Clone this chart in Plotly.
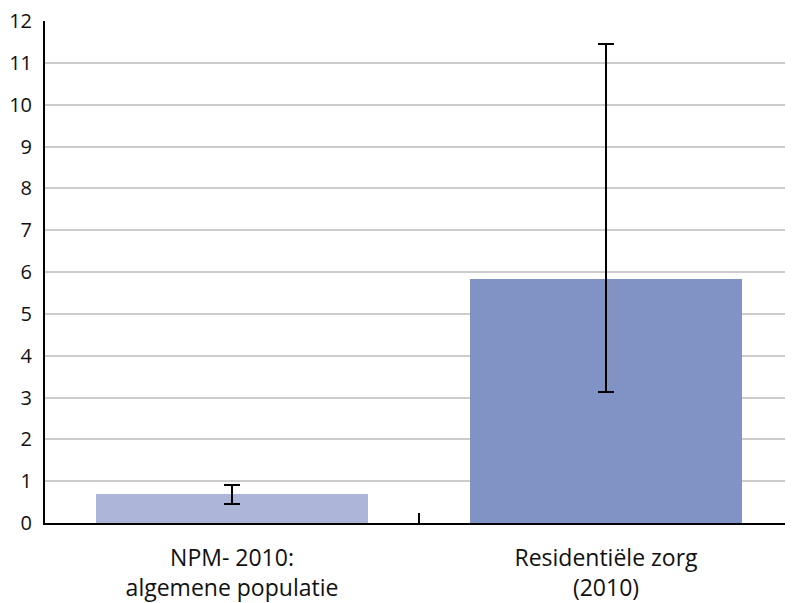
import plotly.graph_objects as go

categories = ["NPM- 2010:<br>algemene populatie", "Residentiële zorg<br>(2010)"]
values = [0.69, 5.83]
err_plus = [0.23, 5.62]
err_minus = [0.24, 2.71]
bar_colors = ["#adb5d8", "#8192c4"]
y_ticks = list(range(0, 13))

FONT = "Open Sans, Lato, sans-serif"
fig = go.Figure()
fig.add_trace(go.Bar(
    x=categories, y=values, width=0.725,
    marker=dict(color=bar_colors, line=dict(width=0)),
    error_y=dict(type="data", symmetric=False, array=err_plus, arrayminus=err_minus,
                 color="black", thickness=2, width=8),
))

fig.update_layout(
    width=785, height=595,
    margin=dict(l=37, r=0, t=13, b=80),
    paper_bgcolor="white", plot_bgcolor="white",
    showlegend=False, font=dict(family=FONT, size=20, color="#111111"), bargap=0,
    xaxis=dict(
        range=[-0.5, 1.5], showgrid=False, showline=True, linecolor="black", linewidth=2,
        ticks="inside", tickson="boundaries", ticklen=10, tickwidth=2, tickcolor="black",
        tickfont=dict(family=FONT, size=23, color="#111111"), ticklabelstandoff=13,
        zeroline=False, automargin=False,
    ),
    yaxis=dict(
        range=[0, 12], tickvals=y_ticks, showgrid=True, gridcolor="#cccccc", gridwidth=2,
        showline=True, linecolor="black", linewidth=2, ticks="", ticklabelstandoff=7,
        ticklabeloverflow="allow", automargin=False,
        zeroline=False, tickfont=dict(family=FONT, size=20, color="#111111"),
    ),
)
fig.write_html("out.html")
